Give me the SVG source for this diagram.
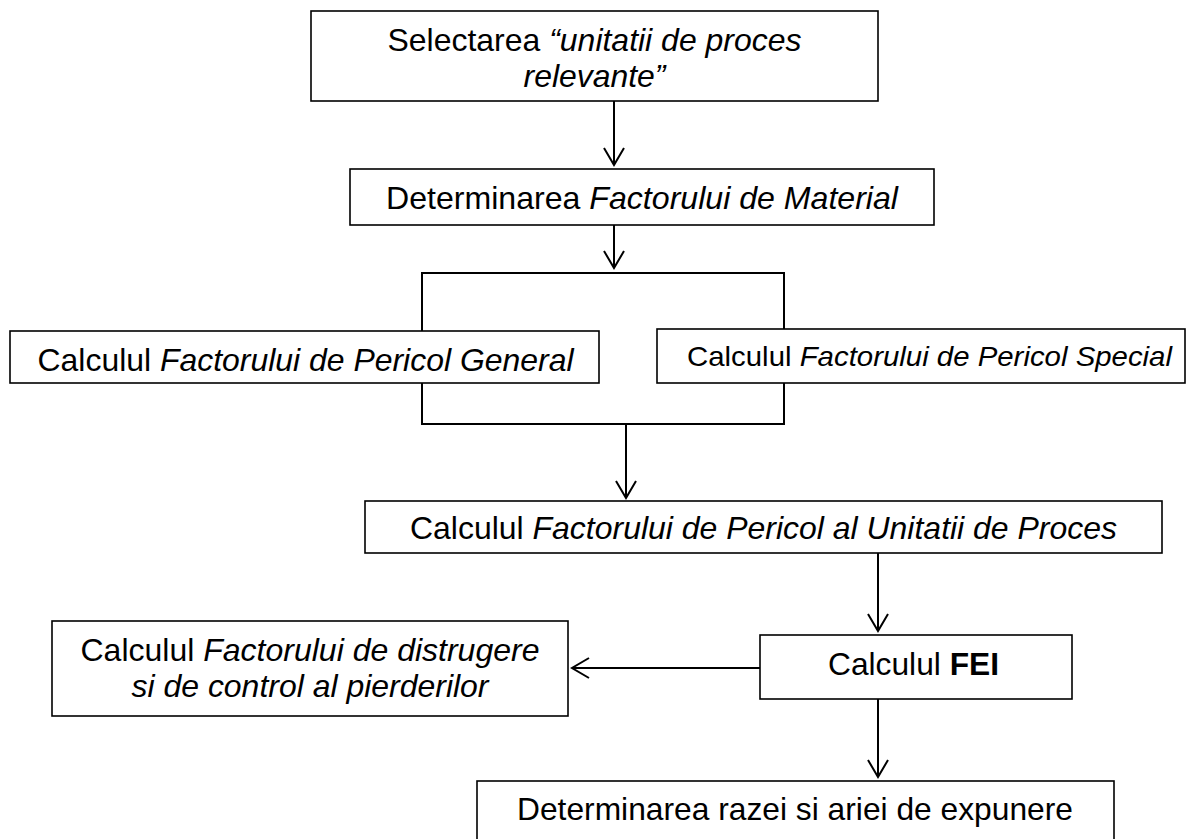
<svg xmlns="http://www.w3.org/2000/svg" width="1187" height="839" viewBox="0 0 1187 839">
<style>
.box{fill:#fff;stroke:#000;stroke-width:1.6}
.t{font-family:"Liberation Sans",Arial,sans-serif;font-size:30.5px;fill:#000;text-anchor:middle}
.i{font-style:italic}
.b{font-weight:bold}
.c{fill:none;stroke:#000;stroke-width:2}
</style>
<defs>
<marker id="arr" markerUnits="userSpaceOnUse" viewBox="-19 -12 22 24" markerWidth="22" markerHeight="24" refX="0" refY="0" orient="auto">
<path d="M-17,-10 L0,0 L-17,10" fill="none" stroke="#000" stroke-width="2"/>
</marker>
</defs>
<g id="connectors">
<line class="c" x1="614" y1="101" x2="614" y2="165" marker-end="url(#arr)"/>
<line class="c" x1="614" y1="225" x2="614" y2="268" marker-end="url(#arr)"/>
<rect class="c" x="422" y="273" width="362" height="151"/>
<line class="c" x1="626" y1="424" x2="626" y2="498" marker-end="url(#arr)"/>
<line class="c" x1="878" y1="553" x2="878" y2="631" marker-end="url(#arr)"/>
<line class="c" x1="760" y1="668" x2="572" y2="668" stroke-width="2.6" marker-end="url(#arr)"/>
<line class="c" x1="878" y1="699" x2="878" y2="777" marker-end="url(#arr)"/>
</g>
<g id="n1">
<rect class="box" x="311" y="11" width="567" height="90"/>
<text class="t" x="594.5" y="51" textLength="414" lengthAdjust="spacingAndGlyphs">Selectarea <tspan class="i">“unitatii de proces</tspan></text>
<text class="t i" x="594.5" y="87" textLength="142" lengthAdjust="spacingAndGlyphs">relevante”</text>
</g>
<g id="n2">
<rect class="box" x="350" y="169" width="584" height="56"/>
<text class="t" x="642" y="209" textLength="512" lengthAdjust="spacingAndGlyphs">Determinarea <tspan class="i">Factorului de Material</tspan></text>
</g>
<g id="n3">
<rect class="box" x="10" y="331" width="589" height="52"/>
<text class="t" x="305.5" y="371" textLength="536" lengthAdjust="spacingAndGlyphs">Calculul <tspan class="i">Factorului de Pericol General</tspan></text>
</g>
<g id="n4">
<rect class="box" x="657" y="329" width="528" height="54"/>
<text class="t" x="929.5" y="366" textLength="485" lengthAdjust="spacingAndGlyphs" style="font-size:28px">Calculul <tspan class="i">Factorului de Pericol Special</tspan></text>
</g>
<g id="n5">
<rect class="box" x="365" y="501" width="797" height="52"/>
<text class="t" x="763.5" y="539" textLength="707" lengthAdjust="spacingAndGlyphs">Calculul <tspan class="i">Factorului de Pericol al Unitatii de Proces</tspan></text>
</g>
<g id="n6">
<rect class="box" x="760" y="635" width="312" height="64"/>
<text class="t" x="913.5" y="675" textLength="171" lengthAdjust="spacingAndGlyphs">Calculul <tspan class="b">FEI</tspan></text>
</g>
<g id="n7">
<rect class="box" x="52" y="621" width="516" height="95"/>
<text class="t" x="310" y="661" textLength="459" lengthAdjust="spacingAndGlyphs">Calculul <tspan class="i">Factorului de distrugere</tspan></text>
<text class="t i" x="310" y="697" textLength="357" lengthAdjust="spacingAndGlyphs">si de control al pierderilor</text>
</g>
<g id="n8">
<rect class="box" x="477" y="781" width="637" height="62"/>
<text class="t" x="795" y="820" textLength="556" lengthAdjust="spacingAndGlyphs">Determinarea razei si ariei de expunere</text>
</g>
</svg>
